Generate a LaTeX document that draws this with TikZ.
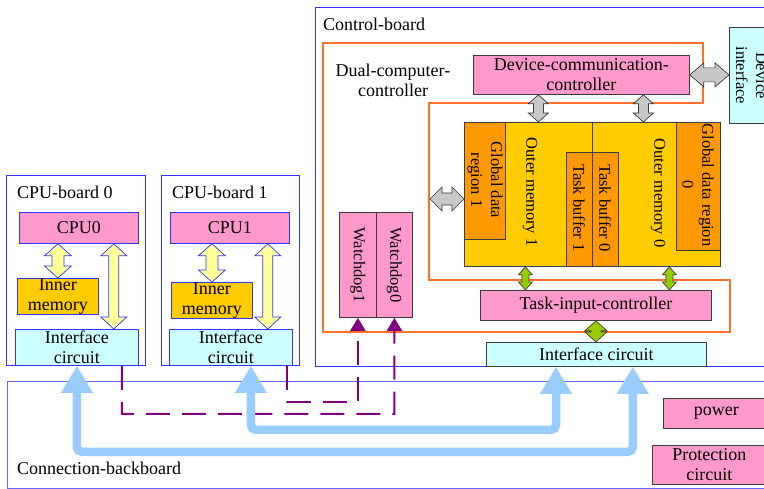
\documentclass[tikz,border=0pt]{standalone}
\usepackage{fontspec}
\setmainfont{Liberation Serif}
\usetikzlibrary{arrows.meta,calc}

\definecolor{bblue}{RGB}{51,51,255}
\definecolor{lblue}{RGB}{102,102,255}
\definecolor{pinkfill}{RGB}{255,153,204}
\definecolor{cyanfill}{RGB}{204,255,255}
\definecolor{goldfill}{RGB}{255,204,0}
\definecolor{orangefill}{RGB}{255,153,0}
\definecolor{palefill}{RGB}{255,255,153}
\definecolor{grayfill}{RGB}{200,200,200}
\definecolor{greenfill}{RGB}{153,204,0}
\definecolor{ctrlline}{RGB}{255,112,40}
\definecolor{busblue}{RGB}{153,204,255}
\definecolor{wdpurple}{RGB}{128,0,128}
\definecolor{darkedge}{RGB}{60,60,60}

% fat double arrow, vertical: [style]{top}{bottom}{head half width}{shaft half width}{head length}
\newcommand{\vbigarrow}[6][]{%
  \draw[#1] let \p1=(#2), \p2=(#3) in
    (\x1,\y1) -- ({\x1+#4pt},{\y1-#6pt}) -- ({\x1+#5pt},{\y1-#6pt})
    -- ({\x1+#5pt},{\y2+#6pt}) -- ({\x1+#4pt},{\y2+#6pt}) -- (\x1,\y2)
    -- ({\x1-#4pt},{\y2+#6pt}) -- ({\x1-#5pt},{\y2+#6pt})
    -- ({\x1-#5pt},{\y1-#6pt}) -- ({\x1-#4pt},{\y1-#6pt}) -- cycle;
}
% same thing lying down: [style]{left}{right}{...}
\newcommand{\hbigarrow}[6][]{%
  \draw[#1] let \p1=(#2), \p2=(#3) in
    (\x1,\y1) -- ({\x1+#6pt},{\y1+#4pt}) -- ({\x1+#6pt},{\y1+#5pt})
    -- ({\x2-#6pt},{\y1+#5pt}) -- ({\x2-#6pt},{\y1+#4pt}) -- (\x2,\y1)
    -- ({\x2-#6pt},{\y1-#4pt}) -- ({\x2-#6pt},{\y1-#5pt})
    -- ({\x1+#6pt},{\y1-#5pt}) -- ({\x1+#6pt},{\y1-#4pt}) -- cycle;
}

\begin{document}
\begin{tikzpicture}[x=1pt, y=-1pt,
    every node/.style={font=\fontsize{18}{20}\selectfont, inner sep=0pt, align=center},
    board/.style={draw=bblue, line width=0.9pt},
    cpubox/.style={draw=bblue, line width=0.8pt, anchor=north west},
    ctlbox/.style={draw=darkedge, line width=0.8pt, anchor=north west},
    vtext/.style={rotate=-90, font=\fontsize{16.5}{20}\selectfont},
    yarrow/.style={draw=bblue, fill=palefill, line width=0.7pt},
    garrow/.style={draw=darkedge, fill=grayfill, line width=0.7pt},
    varrow/.style={draw=darkedge, fill=greenfill, line width=0.7pt},
    wdline/.style={draw=wdpurple, line width=2pt, dash pattern=on 24pt off 12pt,
        -{Triangle[length=13pt,width=15pt]}},
    bus/.style={draw=busblue, line width=8.5pt, rounded corners=5pt,
        {Triangle[length=27pt,width=30pt]}-{Triangle[length=27pt,width=30pt]}}]
    \useasboundingbox (0,0) rectangle (764,489);
    \clip (0,0) rectangle (764,489);

    % boards
    \draw[board] (6,175) rectangle (145,365);
    \draw[board] (161,175) rectangle (299,365);
    \draw[board] (315,7) rectangle (790,366);
    \draw[board, draw=lblue] (7,381) rectangle (790,488);
    \node[anchor=base west] (lbl0) at (17,199) {CPU-board 0};
    \node[anchor=base west] (lbl1) at (172,199) {CPU-board 1};
    \node[anchor=base west] (lblctl) at (323,31) {Control-board};
    \node[anchor=base west] (lblbus) at (17,475) {Connection-backboard};

    % CPU boards
    \node[cpubox, fill=pinkfill, minimum width=119pt, minimum height=31pt] (cpu0) at (19,212) {CPU0};
    \node[cpubox, fill=goldfill, minimum width=81pt, minimum height=36pt] (mem0) at (17,278) {Inner\\memory};
    \node[cpubox, fill=cyanfill, minimum width=123pt, minimum height=36pt] (ifc0) at (15,329) {Interface\\circuit};
    \node[cpubox, fill=pinkfill, minimum width=119pt, minimum height=31pt] (cpu1) at (170,212) {CPU1};
    \node[cpubox, fill=goldfill, minimum width=81pt, minimum height=35pt] (mem1) at (171,282) {Inner\\memory};
    \node[cpubox, fill=cyanfill, minimum width=123pt, minimum height=36pt] (ifc1) at (169,329) {Interface\\circuit};
    \vbigarrow[yarrow]{mem0.north |- cpu0.south}{mem0.north}{13.5}{6}{12}
    \vbigarrow[yarrow]{[xshift=-25pt]cpu0.south east}{ifc0.north}{13}{5}{12}
    \vbigarrow[yarrow]{mem1.north |- cpu1.south}{mem1.north}{13.5}{6}{12}
    \vbigarrow[yarrow]{[xshift=-22pt]cpu1.south east}{ifc1.north}{13}{5}{12}

    % dual computer controller
    \draw[ctrlline, line width=1.3pt] (323,43) -- (703,43) -- (703,103) -- (429,103)
        -- (429,280) -- (730,280) -- (730,332) -- (323,332) -- cycle;
    \node (dcclbl) at (393,80) {Dual-computer-\\controller};
    \node[ctlbox, fill=pinkfill, minimum width=216pt, minimum height=39pt] (dcc) at (473,55) {Device-communication-\\controller};
    \node[ctlbox, fill=cyanfill, minimum width=44pt, minimum height=96pt] (dinf) at (729,27) {};
    \node[vtext] (dinftxt) at (dinf.center) {Device\\interface};

    % outer memories
    \node[ctlbox, fill=goldfill, minimum width=256pt, minimum height=144pt] (memblk) at (464,122) {};
    \node[ctlbox, fill=orangefill, minimum width=41pt, minimum height=117pt] (gd1) at (464,122) {};
    \node[ctlbox, fill=orangefill, minimum width=44pt, minimum height=128pt] (gd0) at (676,122) {};
    \node[ctlbox, fill=orangefill, minimum width=26pt, minimum height=114pt] (tb1) at (566,152) {};
    \node[ctlbox, fill=orangefill, minimum width=26pt, minimum height=114pt] (tb0) at (592,152) {};
    \draw[darkedge, line width=0.8pt] (memblk.north) -- (memblk.north |- tb0.north);
    \node[vtext] (gd1txt) at (485,180) {Global data\\region 1};
    \node[vtext] (om1txt) at (530,192) {Outer memory 1};
    \node[vtext] (tb1txt) at (579,208) {Task buffer 1};
    \node[vtext] (tb0txt) at (605,208) {Task buffer 0};
    \node[vtext] (om0txt) at (658,193) {Outer memory 0};
    \node[vtext] (gd0txt) at (698,185) {Global data region\\0};

    \node[ctlbox, fill=pinkfill, minimum width=231pt, minimum height=30pt] (tic) at (480,290) {Task-input-controller};
    \node[ctlbox, fill=cyanfill, minimum width=220pt, minimum height=24pt] (ifc2) at (486,342) {Interface circuit};
    \node[ctlbox, fill=pinkfill, minimum width=37pt, minimum height=105pt] (wd1) at (339,212) {};
    \node[ctlbox, fill=pinkfill, minimum width=36pt, minimum height=105pt] (wd0) at (376,212) {};
    \node[vtext] (wd1txt) at (wd1.center) {Watchdog1};
    \node[vtext] (wd0txt) at (wd0.center) {Watchdog0};

    \coordinate (gdport) at (430,199);
    \hbigarrow[garrow]{dcc.east}{dinf.west}{12}{7}{14}
    \hbigarrow[garrow]{gdport}{memblk.west}{12}{6}{12}
    \vbigarrow[garrow]{[xshift=-43pt]dcc.south}{memblk.north}{10}{5}{9}
    \vbigarrow[garrow]{[xshift=62pt]dcc.south}{memblk.north}{10}{5}{9}
    \vbigarrow[varrow]{[xshift=-67pt]memblk.south}{tic.north}{7}{3.5}{8}
    \vbigarrow[varrow]{[xshift=77pt]memblk.south}{tic.north}{7}{3.5}{8}
    \vbigarrow[varrow]{tic.south}{ifc2.north}{11}{5}{10}

    % backboard
    \node[ctlbox, fill=pinkfill, minimum width=106pt, minimum height=30pt] (pwr) at (663,398) {power};
    \node[ctlbox, fill=pinkfill, minimum width=114pt, minimum height=39pt] (prot) at (652,445) {Protection\\circuit};

    % watchdog lines
    \draw[wdline] ([xshift=-17pt]ifc0.south east) -- ++(0,48) -- ++(122,0)
        arc[start angle=180, end angle=360, radius=5] -| (wd0.south);
    \draw[wdline] ([xshift=-6pt]ifc1.south east) -- ++(0,36) -| (wd1.south);

    % buses
    \draw[bus] (ifc0.south) -- ++(0,86) -| ([xshift=-74pt]ifc2.south east);
    \draw[bus] ([xshift=20pt]ifc1.south) -- ++(0,64) -| ([xshift=70pt]ifc2.south west);
\end{tikzpicture}
\end{document}
